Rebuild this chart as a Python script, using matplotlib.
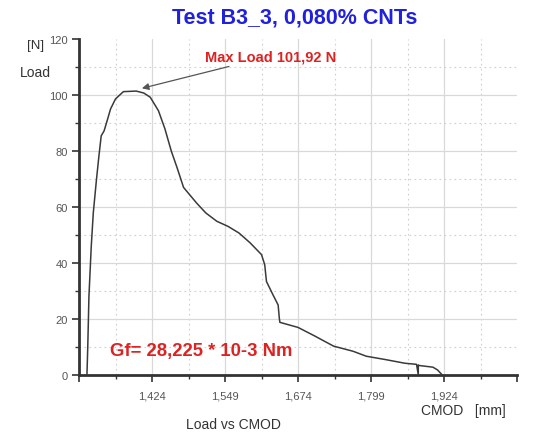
import matplotlib
matplotlib.use("Agg")
import matplotlib.pyplot as plt
from matplotlib.ticker import FixedLocator, MultipleLocator

plt.rcParams['font.family'] = ['Liberation Sans', 'DejaVu Sans']

cmod = [1.3126, 1.314, 1.316, 1.320, 1.3235, 1.329, 1.333, 1.337, 1.342, 1.348,
        1.353, 1.3615, 1.375, 1.397, 1.410, 1.421, 1.435, 1.446, 1.457, 1.467,
        1.478, 1.500, 1.516, 1.535, 1.554, 1.573, 1.592, 1.6115, 1.617, 1.620,
        1.631, 1.640, 1.642, 1.643, 1.674, 1.702, 1.735, 1.768, 1.791, 1.824,
        1.857, 1.877, 1.880, 1.880, 1.881, 1.905, 1.913, 1.921]
load = [0, 10, 28, 46, 58, 70, 78, 85.4, 87.2, 91.4,
        95, 98.6, 101.2, 101.4, 100.7, 99.2, 94.4, 88, 80, 74,
        67, 61.5, 57.9, 54.9, 53.1, 50.7, 47.2, 43, 39.4, 33.4,
        28.7, 25, 20.3, 18.8, 17, 14, 10.3, 8.5, 6.7, 5.5,
        4.2, 3.8, 0, 3.6, 3.4, 2.8, 1.8, 0]

x_ticks = [1.299, 1.424, 1.549, 1.674, 1.799, 1.924, 2.049]
x_tick_labels = ["", "1,424", "1,549", "1,674", "1,799", "1,924", ""]
y_ticks = [0, 20, 40, 60, 80, 100, 120]

title = "Test B3_3, 0,080% CNTs"
max_label = "Max Load 101,92 N"
max_point = (1.3975, 101.9)
gf_label = "Gf= 28,225 * 10-3 Nm"

fig = plt.figure(figsize=(5.42, 4.35), dpi=100)
ax = fig.add_axes([79/542, 1-376/435, (517-79)/542, 336/435])

ax.set_xlim(1.299, 2.049)
ax.set_ylim(0, 120)

# grid
for xv in x_ticks[1:-1]:
    ax.axvline(xv, color='#d9d9d9', lw=0.9, zorder=0)
for xv in x_ticks[:-1]:
    ax.axvline(xv + 0.0625, color='#cfcfcf', lw=0.8, ls=(0, (1.5, 3)), zorder=0)
for yv in y_ticks[1:-1]:
    ax.axhline(yv, color='#d9d9d9', lw=0.9, zorder=0)
for yv in range(10, 120, 20):
    ax.axhline(yv, color='#cfcfcf', lw=0.8, ls=(0, (1.5, 3)), zorder=0)

ax.plot(cmod, load, color='#3a3a3a', lw=1.1, zorder=3)

ax.xaxis.set_major_locator(FixedLocator(x_ticks))
ax.set_xticklabels(x_tick_labels)
ax.xaxis.set_minor_locator(FixedLocator([v + 0.0625 for v in x_ticks[:-1]]))
ax.yaxis.set_major_locator(FixedLocator(y_ticks))
ax.yaxis.set_minor_locator(MultipleLocator(10))

for s in ['top', 'right']:
    ax.spines[s].set_visible(False)
for s in ['left', 'bottom']:
    ax.spines[s].set_linewidth(2.0)
    ax.spines[s].set_color('#333333')

ax.tick_params(axis='both', which='major', length=5, width=1.2, color='#333333',
               labelsize=8, labelcolor='#555555', direction='out')
ax.tick_params(axis='both', which='minor', length=3, width=1.0, color='#333333',
               direction='out')
ax.tick_params(axis='x', pad=6)
ax.tick_params(axis='y', pad=3)

fig.text(295/542, 1-18/435, title, color='#2020dd', fontsize=15.5,
         fontweight='bold', ha='center', va='center')
fig.text(36/542, 1-46/435, "[N]", color='#333333', fontsize=9.5,
         ha='center', va='center')
fig.text(35/542, 1-73/435, "Load", color='#333333', fontsize=10,
         ha='center', va='center')

ax.annotate(max_label, xy=max_point, xytext=(205/542, 1-57/435),
            textcoords='figure fraction', color='#dd2222', fontsize=10.5,
            fontweight='bold', ha='left', va='center',
            arrowprops=dict(arrowstyle='-|>', color='#555555', lw=0.9,
                            mutation_scale=10, shrinkA=2, shrinkB=4))

fig.text(110/542, 1-352/435, gf_label, color='#dd2222', fontsize=13.3,
         fontweight='bold', ha='left', va='center')

fig.text(463/542, 1-411/435, "CMOD   [mm]", color='#333333', fontsize=10,
         ha='center', va='center')
fig.text(233/542, 1-425/435, "Load vs CMOD", color='#333333', fontsize=10,
         ha='center', va='center')

fig.savefig("out.png", dpi=100)
